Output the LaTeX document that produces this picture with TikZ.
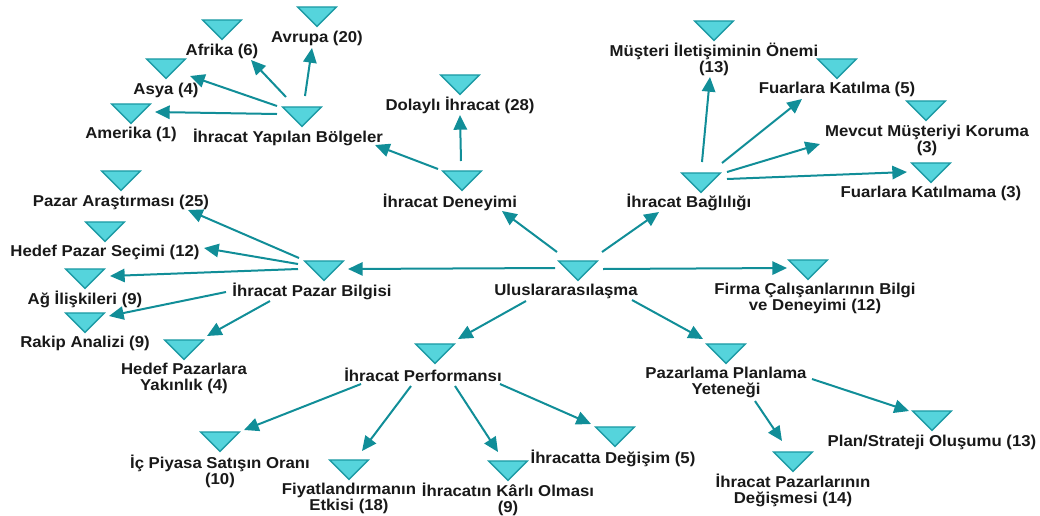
\documentclass[tikz,border=0pt]{standalone}
\usepackage{fontspec}
\setmainfont[FakeStretch=1.065]{Liberation Sans}
\usetikzlibrary{arrows.meta,shapes.geometric}
\definecolor{trifill}{HTML}{55D4DC}
\definecolor{triedge}{HTML}{1C9AA4}
\definecolor{conncol}{HTML}{118E98}
\tikzset{
    tri/.style={shape=isosceles triangle,isosceles triangle stretches,shape border rotate=-90,
        minimum width=29pt,minimum height=14.5pt,inner sep=0pt,fill=trifill,draw=triedge,line width=1pt},
    lbl/.style={font=\fontsize{11.8}{12}\selectfont\bfseries,align=center,inner sep=0pt,text=black!90,yshift=-0.75pt},
    conn/.style={draw=conncol,line width=1.5pt,-{Triangle[length=11pt,width=10pt]}}
}

\begin{document}
\begin{tikzpicture}[x=0.75pt,y=-0.75pt]
    \useasboundingbox (0,0) rectangle (1040,515);

    \node[tri] (ulus) at (578,269) {};
    \node[lbl] (ulusL) at (566,290) {Uluslararasılaşma};
    \node[tri] (firma) at (808,268) {};
    \node[lbl] (firmaL) at (815,297) {Firma Çalışanlarının Bilgi\\ve Deneyimi (12)};

    % bolgeler
    \node[tri] (bolge) at (302,115) {};
    \node[lbl] (bolgeL) at (288,136) {İhracat Yapılan Bölgeler};
    \node[tri] (avrupa) at (317,15) {};
    \node[lbl] (avrupaL) at (317,37) {Avrupa (20)};
    \node[tri] (afrika) at (222,28) {};
    \node[lbl] (afrikaL) at (222,50) {Afrika (6)};
    \node[tri] (asya) at (166,67) {};
    \node[lbl] (asyaL) at (166,89) {Asya (4)};
    \node[tri] (amerika) at (131,112) {};
    \node[lbl] (amerikaL) at (131,133) {Amerika (1)};

    % deneyim
    \node[tri] (deneyim) at (462,179) {};
    \node[lbl] (deneyimL) at (450,201) {İhracat Deneyimi};
    \node[tri] (dolayli) at (460,83) {};
    \node[lbl] (dolayliL) at (460,104) {Dolaylı İhracat (28)};

    % baglilik
    \node[tri] (bag) at (701,181) {};
    \node[lbl] (bagL) at (689,201) {İhracat Bağlılığı};
    \node[tri] (musteri) at (714,29) {};
    \node[lbl] (musteriL) at (714,58) {Müşteri İletişiminin Önemi\\(13)};
    \node[tri] (katilma) at (837,67) {};
    \node[lbl] (katilmaL) at (837,88) {Fuarlara Katılma (5)};
    \node[tri] (mevcut) at (926,109) {};
    \node[lbl] (mevcutL) at (927,139) {Mevcut Müşteriyi Koruma\\(3)};
    \node[tri] (katilmama) at (931,171) {};
    \node[lbl] (katilmamaL) at (931,192) {Fuarlara Katılmama (3)};

    % pazar bilgisi
    \node[tri] (bilgi) at (324,269) {};
    \node[lbl] (bilgiL) at (312,290) {İhracat Pazar Bilgisi};
    \node[tri] (arastirma) at (121,179) {};
    \node[lbl] (arastirmaL) at (121,201) {Pazar Araştırması (25)};
    \node[tri] (secim) at (105,230) {};
    \node[lbl] (secimL) at (105,251) {Hedef Pazar Seçimi (12)};
    \node[tri] (ag) at (85,277) {};
    \node[lbl] (agL) at (85,298) {Ağ İlişkileri (9)};
    \node[tri] (rakip) at (85,321) {};
    \node[lbl] (rakipL) at (85,342) {Rakip Analizi (9)};
    \node[tri] (yakin) at (184,348) {};
    \node[lbl] (yakinL) at (184,377) {Hedef Pazarlara\\Yakınlık (4)};

    % performans
    \node[tri] (perf) at (435,352) {};
    \node[lbl] (perfL) at (423,374) {İhracat Performansı};
    \node[tri] (ic) at (220,440) {};
    \node[lbl] (icL) at (220,470) {İç Piyasa Satışın Oranı\\(10)};
    \node[tri] (fiyat) at (349,468) {};
    \node[lbl] (fiyatL) at (349,497) {Fiyatlandırmanın\\Etkisi (18)};
    \node[tri] (karli) at (508,469) {};
    \node[lbl] (karliL) at (508,498) {İhracatın Kârlı Olması\\(9)};
    \node[tri] (degisim) at (615,435) {};
    \node[lbl] (degisimL) at (613,457) {İhracatta Değişim (5)};

    % planlama
    \node[tri] (plan) at (726,352) {};
    \node[lbl] (planL) at (726,381) {Pazarlama Planlama\\Yeteneği};
    \node[tri] (strateji) at (932,419) {};
    \node[lbl] (stratejiL) at (932,441) {Plan/Strateji Oluşumu (13)};
    \node[tri] (pazarlar) at (793,460) {};
    \node[lbl] (pazarlarL) at (793,489) {İhracat Pazarlarının\\Değişmesi (14)};

    \draw[conn] ([shift={(-23,-1)}]ulus.center) -- ([shift={(24,0)}]bilgi.center);
    \draw[conn] ([shift={(-21,-17)}]ulus.center) -- ([shift={(52,9)}]deneyimL.center);
    \draw[conn] ([shift={(24,-17)}]ulus.center) -- ([shift={(-30,10)}]bagL.center);
    \draw[conn] ([shift={(25,0)}]ulus.center) -- ([shift={(-21,0)}]firma.center);
    \draw[conn] ([shift={(66,9)}]ulusL.center) -- ([shift={(-23,-13)}]plan.center);
    \draw[conn] ([shift={(-40,10)}]ulusL.center) -- ([shift={(23,-13)}]perf.center);

    \draw[conn] ([shift={(-25,-1)}]bolge.center) -- ([shift={(24,0)}]amerika.center);
    \draw[conn] ([shift={(-25,-9)}]bolge.center) -- ([shift={(24,9)}]asya.center);
    \draw[conn] ([shift={(-16,-18)}]bolge.center) -- ([shift={(29,9)}]afrikaL.center);
    \draw[conn] ([shift={(3,-19)}]bolge.center) -- ([shift={(-5,10)}]avrupaL.center);

    \draw[conn] ([shift={(-1,-18)}]deneyim.center) -- ([shift={(0,10)}]dolayliL.center);
    \draw[conn] ([shift={(-24,-10)}]deneyim.center) -- ([shift={(87,8)}]bolgeL.center);

    \draw[conn] ([shift={(-25,-11)}]bilgi.center) -- ([shift={(67,8)}]arastirmaL.center);
    \draw[conn] ([shift={(-26,-5)}]bilgi.center) -- ([shift={(99,-4)}]secimL.center);
    \draw[conn] ([shift={(-26,0)}]bilgi.center) -- ([shift={(25,-1)}]ag.center);
    \draw[conn] ([shift={(-86,1)}]bilgiL.center) -- ([shift={(24,-5)}]rakip.center);
    \draw[conn] ([shift={(-42,10)}]bilgiL.center) -- ([shift={(23,-12)}]yakin.center);

    \draw[conn] ([shift={(1,-19)}]bag.center) -- ([shift={(-4,18)}]musteriL.center);
    \draw[conn] ([shift={(21,-18)}]bag.center) -- ([shift={(-35,10)}]katilmaL.center);
    \draw[conn] ([shift={(26,-9)}]bag.center) -- ([shift={(-107,4)}]mevcutL.center);
    \draw[conn] ([shift={(26,-2)}]bag.center) -- ([shift={(-24,1)}]katilmama.center);

    \draw[conn] ([shift={(-62,9)}]perfL.center) -- ([shift={(24,-10)}]ic.center);
    \draw[conn] ([shift={(-12,11)}]perfL.center) -- ([shift={(13,-17)}]fiyat.center);
    \draw[conn] ([shift={(32,11)}]perfL.center) -- ([shift={(-10,-17)}]karli.center);
    \draw[conn] ([shift={(77,9)}]perfL.center) -- ([shift={(-24,-11)}]degisim.center);

    \draw[conn] ([shift={(86,-3)}]planL.center) -- ([shift={(-23,-8)}]strateji.center);
    \draw[conn] ([shift={(29,19)}]planL.center) -- ([shift={(-11,-19)}]pazarlar.center);
\end{tikzpicture}
\end{document}
